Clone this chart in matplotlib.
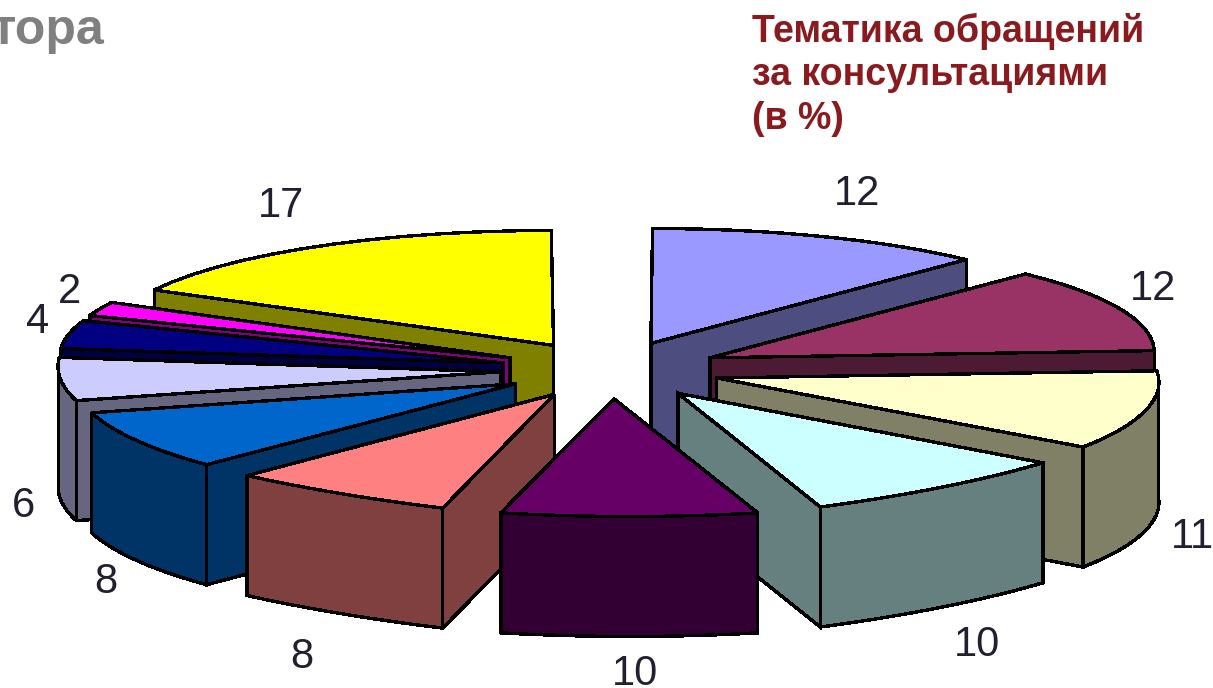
import numpy as np
import matplotlib
matplotlib.use('Agg')
import matplotlib.pyplot as plt
from matplotlib.patches import Polygon

# Datos: porcentajes en sentido horario desde las 12
valores = [12, 12, 11, 10, 10, 8, 8, 6, 4, 2, 17]
etiquetas = ['12', '12', '11', '10', '10', '8', '8', '6', '4', '2', '17']
titulo = ['Тематика обращений', 'за консультациями', '(в %)']
resto_titulo = 'тора'

# Colores de cada sector
colores = ['#9999FF', '#993366', '#FFFFCC', '#CCFFFF', '#660066', '#FF8080',
           '#0066CC', '#CCCCFF', '#000080', '#FF00FF', '#FFFF00']
colores_lado = ['#4D4D80', '#4D1A33', '#808066', '#668080', '#330033', '#804040',
                '#003366', '#666680', '#000040', '#800080', '#808000']

# Geometria de la "torta" en pixeles
cx, cy = 610, 370
radio = 442
explode = 110
ky = 0.26
altura = 120
skew = 0.14
plano = 0.6  # los arcos de adelante son mas planos que una elipse

# Posicion de las etiquetas (centro, linea base)
pos_etiquetas = [(857, 205), (1153, 300), (1192, 548), (977, 656), (635, 685), (302, 668),
                 (106, 593), (23, 517), (38, 333), (70, 303), (281, 217)]
pos_titulo = [42, 85, 129]


def proyectar(x, y):
    px = np.asarray(x, dtype=float)
    py = np.asarray(y, dtype=float)
    frente = np.maximum(0, -py) / radio
    fondo = np.maximum(0, py) / radio
    sx = cx + px * (1 + 0.04 * fondo - 0.02 * frente ** 6) + skew * ky * radio * frente
    sy = cy - py * ky * (1 + 0.03 * frente)
    return sx, sy


def cara(xs, ys, color, z):
    # Pared vertical: baja desde el borde superior
    sx, sy = proyectar(xs, ys)
    puntos = np.column_stack([np.r_[sx, sx[::-1]], np.r_[sy, (sy + altura)[::-1]]])
    ax.add_patch(Polygon(puntos, closed=True, fc=color, ec='black', lw=1.7,
                         joinstyle='miter', antialiased=False, zorder=z))


fig = plt.figure(figsize=(12.13, 6.88), dpi=100)
ax = fig.add_axes([0, 0, 1, 1])
ax.set_xlim(0, 1213)
ax.set_ylim(688, 0)
ax.axis('off')

fin = np.cumsum(valores) * 3.6
inicio = fin - np.array(valores) * 3.6
medio = np.radians((inicio + fin) / 2)

# Primero lo de atras, despues lo de adelante
orden = np.argsort(-np.cos(medio))
for z, i in enumerate(orden):
    a0, a1 = np.radians(inicio[i]), np.radians(fin[i])
    ox, oy = explode * np.sin(medio[i]), explode * np.cos(medio[i])
    ang = np.linspace(a0, a1, 14)
    t = np.linspace(0, 1, 14)

    # Arco, aplanado hacia la cuerda en los sectores de adelante
    f = plano if np.cos(medio[i]) < -0.6 else 1.0
    ax0, ay0 = radio * np.sin(a0), radio * np.cos(a0)
    ax1, ay1 = radio * np.sin(a1), radio * np.cos(a1)
    cuerda_x, cuerda_y = ax0 + (ax1 - ax0) * t, ay0 + (ay1 - ay0) * t
    bx = ox + cuerda_x + f * (radio * np.sin(ang) - cuerda_x)
    by = oy + cuerda_y + f * (radio * np.cos(ang) - cuerda_y)

    # Caras de corte que miran hacia el frente
    if np.sin(a0) < -1e-6:
        cara(np.array([ox, bx[0]]), np.array([oy, by[0]]), colores_lado[i], z)
    if np.sin(a1) > 1e-6:
        cara(np.array([ox, bx[-1]]), np.array([oy, by[-1]]), colores_lado[i], z)

    # Pared exterior, solo la parte visible
    visible = np.cos(ang) < 0.02
    if visible.sum() > 1:
        cara(bx[visible], by[visible], colores_lado[i], z)

    # Tapa del sector
    sx, sy = proyectar(np.r_[ox, bx], np.r_[oy, by])
    ax.add_patch(Polygon(np.column_stack([sx, sy]), closed=True, fc=colores[i], ec='black',
                         lw=1.7, joinstyle='miter', antialiased=False, zorder=z))

# Etiquetas
for texto, (x, y) in zip(etiquetas, pos_etiquetas):
    ax.text(x, y, texto, fontsize=30, family='Liberation Sans', color='#202030',
            ha='center', va='baseline', zorder=50)

# Titulos
for linea, y in zip(titulo, pos_titulo):
    ax.text(752, y, linea, fontsize=27, fontweight='bold', family='Liberation Sans',
            color='#8B1A1E', ha='left', va='baseline')
ax.text(104, 44, resto_titulo, fontsize=36, fontweight='bold', family='Liberation Sans',
        color='#808080', ha='right', va='baseline')

fig.savefig('out.png', dpi=100)
